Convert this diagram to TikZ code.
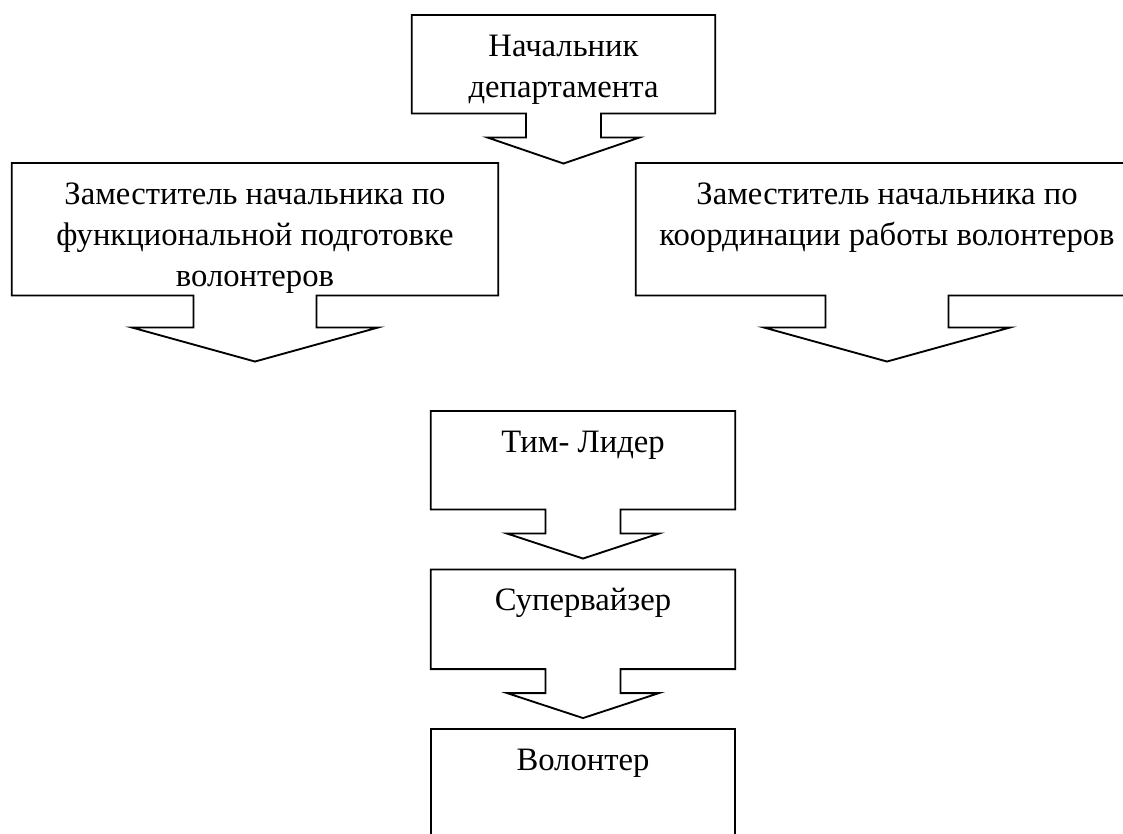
\documentclass[tikz,border=0pt]{standalone}
\usepackage{fontspec}
\setmainfont{Liberation Serif}
\usetikzlibrary{positioning,calc}

\tikzset{
  unit/.style={anchor=north, inner sep=0pt, align=flush center, text height=30.75pt,
    font=\fontsize{24.5pt}{30.75pt}\selectfont},
  outline/.style={draw, line width=1.4pt, line join=miter}
}

% box with a broad arrow under it: node, shaft half-width, shaft length, head half-width, head length
\newcommand{\arrowbox}[5]{%
  \draw[outline] (#1.south west) -- (#1.north west) -- (#1.north east) -- (#1.south east)
    -- ($(#1.south)+(#2,0)$) -- ++(0,#3) -- ($(#1.south)+(#4,#3)$) -- ($(#1.south)+(0,#3+#5)$)
    -- ($(#1.south)+(-#4,#3)$) -- ($(#1.south)+(-#2,#3)$) -- ($(#1.south)+(-#2,0)$) -- cycle;}

\begin{document}
\begin{tikzpicture}[x=0.75pt, y=-0.75pt]
  \path[use as bounding box, clip] (0,0) rectangle (1123,834);
  %
  \node[unit, text width=227.25pt, text depth=42.75pt] (nach) at (563.5,15) {Начальник\\департамента};
  \node[unit, text width=364.5pt, text depth=68.25pt] (zam1) at (255,163)
    {Заместитель начальника по\\функциональной подготовке\\волонтеров};
  \node[unit, text width=376.5pt, text depth=68.25pt] (zam2) at (887,163)
    {Заместитель начальника по\\координации работы волонтеров};
  \node[unit, text width=228pt, text depth=42.75pt] (tim) at (583,411) {Тим- Лидер};
  \node[unit, text width=228pt, text depth=43.5pt] (sup) [below=45pt of tim] {Супервайзер};
  \node[unit, text width=228pt, text depth=59.25pt, outline] (vol) [below=44.25pt of sup] {Волонтер};
  %
  \arrowbox{nach}{37.5}{24}{76}{26}
  \arrowbox{zam1}{61.5}{32}{123}{34}
  \arrowbox{zam2}{61.5}{32}{123}{34}
  \arrowbox{tim}{37.5}{24}{76}{25}
  \arrowbox{sup}{37.5}{24}{76}{25}
\end{tikzpicture}
\end{document}
